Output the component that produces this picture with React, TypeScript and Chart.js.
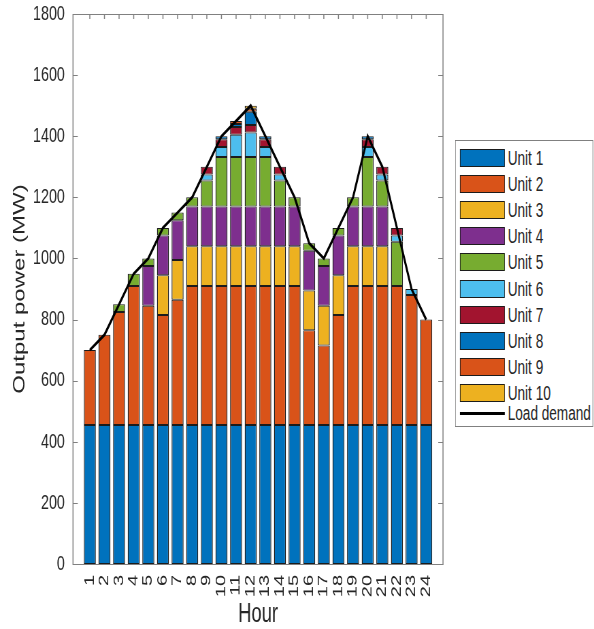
import React, { useEffect, useRef } from "react";
import { Chart, registerables } from "chart.js";

Chart.register(...registerables);

const hours = [1, 2, 3, 4, 5, 6, 7, 8, 9, 10, 11, 12, 13, 14, 15, 16, 17, 18, 19, 20, 21, 22, 23, 24];
const yTickValues = [0, 200, 400, 600, 800, 1000, 1200, 1400, 1600, 1800];

const unitNames = ["Unit 1", "Unit 2", "Unit 3", "Unit 4", "Unit 5", "Unit 6", "Unit 7", "Unit 8", "Unit 9", "Unit 10"];
const unitColors = ["#0072BD", "#D95319", "#EDB120", "#7E2F8E", "#77AC30", "#4DBEEE", "#A2142F", "#0072BD", "#D95319", "#EDB120"];

const unit1 = [455, 455, 455, 455, 455, 455, 455, 455, 455, 455, 455, 455, 455, 455, 455, 455, 455, 455, 455, 455, 455, 455, 455, 455];
const unit2 = [245, 295, 370, 455, 390, 360, 410, 455, 455, 455, 455, 455, 455, 455, 455, 310, 260, 360, 455, 455, 455, 455, 425, 345];
const unit3 = [0, 0, 0, 0, 0, 130, 130, 130, 130, 130, 130, 130, 130, 130, 130, 130, 130, 130, 130, 130, 130, 0, 0, 0];
const unit4 = [0, 0, 0, 0, 130, 130, 130, 130, 130, 130, 130, 130, 130, 130, 130, 130, 130, 130, 130, 130, 130, 0, 0, 0];
const unit5 = [0, 0, 25, 40, 25, 25, 25, 30, 85, 162, 162, 162, 162, 85, 30, 25, 25, 25, 30, 162, 85, 145, 0, 0];
const unit6 = [0, 0, 0, 0, 0, 0, 0, 0, 20, 33, 73, 80, 33, 20, 0, 0, 0, 0, 0, 33, 20, 20, 20, 0];
const unit7 = [0, 0, 0, 0, 0, 0, 0, 0, 25, 25, 25, 25, 25, 25, 0, 0, 0, 0, 0, 25, 25, 25, 0, 0];
const unit8 = [0, 0, 0, 0, 0, 0, 0, 0, 0, 10, 10, 43, 10, 0, 0, 0, 0, 0, 0, 10, 0, 0, 0, 0];
const unit9 = [0, 0, 0, 0, 0, 0, 0, 0, 0, 0, 10, 10, 0, 0, 0, 0, 0, 0, 0, 0, 0, 0, 0, 0];
const unit10 = [0, 0, 0, 0, 0, 0, 0, 0, 0, 0, 0, 10, 0, 0, 0, 0, 0, 0, 0, 0, 0, 0, 0, 0];
const loadDemand = [700, 750, 850, 950, 1000, 1100, 1150, 1200, 1300, 1400, 1450, 1500, 1400, 1300, 1200, 1050, 1000, 1100, 1200, 1400, 1300, 1100, 900, 800];

const unitSeries = [unit1, unit2, unit3, unit4, unit5, unit6, unit7, unit8, unit9, unit10];

// The reference text is tall and narrow: the whole figure is drawn wider and squeezed horizontally.
const SX = 0.6804;
const W = 873;
const H = 629;
const lx = (realX: number) => realX / SX;

const FONT = '"Liberation Sans", Arial, sans-serif';
const TEXT = "#262626";
const AXIS = "#808080";

const boxPlugin = {
  id: "matlabBox",
  beforeDatasetsDraw(chart: any) {
    const { ctx, chartArea } = chart;
    const { left, right, top, bottom } = chartArea;
    const ys = chart.scales.y;
    const xs = chart.scales.x;
    ctx.save();
    ctx.strokeStyle = AXIS;
    ctx.lineWidth = 1;
    ctx.beginPath();
    ctx.moveTo(left, Math.round(top) + 0.5);
    ctx.lineTo(right, Math.round(top) + 0.5);
    ctx.moveTo(left, Math.round(bottom) + 0.5);
    ctx.lineTo(right, Math.round(bottom) + 0.5);
    ctx.stroke();
    ctx.lineWidth = 1.5;
    ctx.beginPath();
    ctx.moveTo(left, top);
    ctx.lineTo(left, bottom + 1);
    ctx.moveTo(right, top);
    ctx.lineTo(right, bottom + 1);
    ctx.stroke();
    ctx.lineWidth = 1;
    ctx.beginPath();
    const tlx = 7;
    yTickValues.forEach((v) => {
      const py = Math.round(ys.getPixelForValue(v)) + 0.5;
      ctx.moveTo(left, py);
      ctx.lineTo(left + tlx, py);
      ctx.moveTo(right, py);
      ctx.lineTo(right - tlx, py);
    });
    ctx.stroke();
    ctx.lineWidth = 1.5;
    ctx.beginPath();
    hours.forEach((h) => {
      const px = xs.getPixelForValue(h);
      ctx.moveTo(px, top);
      ctx.lineTo(px, top + 5);
      ctx.moveTo(px, bottom);
      ctx.lineTo(px, bottom - 5);
    });
    ctx.stroke();
    ctx.restore();
  },
};

export default function App() {
  const ref = useRef<HTMLCanvasElement | null>(null);

  useEffect(() => {
    if (!ref.current) return;
    const barSets = unitSeries.map((vals, i) => ({
      type: "bar" as const,
      label: unitNames[i],
      data: hours.map((h, j) => ({ x: h, y: vals[j] })),
      backgroundColor: unitColors[i],
      borderColor: "#1c1c1c",
      borderWidth: { top: 1, bottom: 1, left: 1.4, right: 1.4 },
      borderSkipped: false,
      barPercentage: 0.82,
      categoryPercentage: 1,
      stack: "units",
      order: 1,
    }));
    const lineSet = {
      type: "line" as const,
      label: "Load demand",
      data: hours.map((h, j) => ({ x: h, y: loadDemand[j] })),
      borderColor: "#000000",
      borderWidth: 3,
      pointRadius: 0,
      tension: 0,
      fill: false,
      stack: "demand",
      order: 0,
    };
    const chart = new Chart(ref.current, {
      type: "bar",
      data: { datasets: [...barSets, lineSet] as any },
      options: {
        animation: false,
        responsive: false,
        devicePixelRatio: 1,
        layout: { padding: { left: 0, top: 14, right: W - lx(443), bottom: 0 } },
        plugins: { legend: { display: false }, tooltip: { enabled: false } },
        scales: {
          x: {
            type: "linear",
            min: -0.15,
            max: 25.15,
            stacked: true,
            offset: false,
            afterBuildTicks: (s: any) => {
              s.ticks = hours.map((h) => ({ value: h }));
            },
            afterFit: (s: any) => {
              s.height = 65;
              s.paddingLeft = 0;
              s.paddingRight = 0;
            },
            grid: { display: false, drawTicks: false },
            border: { display: false },
            ticks: {
              autoSkip: false,
              maxRotation: 90,
              minRotation: 90,
              padding: 11,
              color: TEXT,
              font: { family: FONT, size: 20 },
              callback: (v: any) => String(v),
            },
            title: {
              display: true,
              text: "Hour",
              color: TEXT,
              font: { family: FONT, size: 27, lineHeight: 1.2 },
              padding: { top: 0, bottom: -2 },
            },
          },
          y: {
            min: 0,
            max: 1800,
            stacked: true,
            afterBuildTicks: (s: any) => {
              s.ticks = yTickValues.map((v) => ({ value: v }));
            },
            afterFit: (s: any) => {
              s.width = lx(73);
              s.paddingTop = 0;
              s.paddingBottom = 0;
            },
            grid: { display: false, drawTicks: false },
            border: { display: false },
            ticks: {
              padding: 12,
              color: TEXT,
              font: { family: FONT, size: 21 },
              callback: (v: any) => String(v),
            },
            title: {
              display: true,
              text: "Output power (MW)",
              color: TEXT,
              font: { family: FONT, size: 24, lineHeight: 1.2 },
              padding: { top: 15, bottom: 0 },
            },
          },
        },
      } as any,
      plugins: [boxPlugin],
    });
    return () => chart.destroy();
  }, []);

  const rowCenter = (i: number) => 17 + i * 26.1;

  return (
    <div
      style={{
        position: "fixed",
        left: 0,
        top: 0,
        width: W,
        height: H,
        background: "#ffffff",
        transform: `scaleX(${SX})`,
        transformOrigin: "0 0",
      }}
    >
      <canvas ref={ref} width={W} height={H} style={{ position: "absolute", left: 0, top: 0, width: W, height: H }} />
      <div
        style={{
          position: "absolute",
          left: lx(455),
          top: 140,
          width: lx(138.5),
          height: 287,
          borderTop: `1px solid ${AXIS}`,
          borderBottom: `1px solid ${AXIS}`,
          borderLeft: `1.5px solid ${AXIS}`,
          borderRight: `1.5px solid ${AXIS}`,
          boxSizing: "border-box",
          background: "#ffffff",
          fontFamily: FONT,
          fontSize: 20,
          color: TEXT,
        }}
      >
        {unitNames.map((name, i) => (
          <div key={name}>
            <div
              style={{
                position: "absolute",
                left: lx(4),
                top: rowCenter(i) - 9,
                width: lx(45),
                height: 18,
                background: unitColors[i],
                borderTop: "1px solid #1c1c1c",
                borderBottom: "1px solid #1c1c1c",
                borderLeft: "1.4px solid #1c1c1c",
                borderRight: "1.4px solid #1c1c1c",
                boxSizing: "border-box",
              }}
            />
            <div style={{ position: "absolute", left: lx(52), top: rowCenter(i) - 12, lineHeight: "24px", whiteSpace: "nowrap" }}>{name}</div>
          </div>
        ))}
        <div style={{ position: "absolute", left: lx(4), top: 271, width: lx(45), height: 3, background: "#000000" }} />
        <div style={{ position: "absolute", left: lx(52), top: 272 - 12, lineHeight: "24px", whiteSpace: "nowrap" }}>Load demand</div>
      </div>
    </div>
  );
}
